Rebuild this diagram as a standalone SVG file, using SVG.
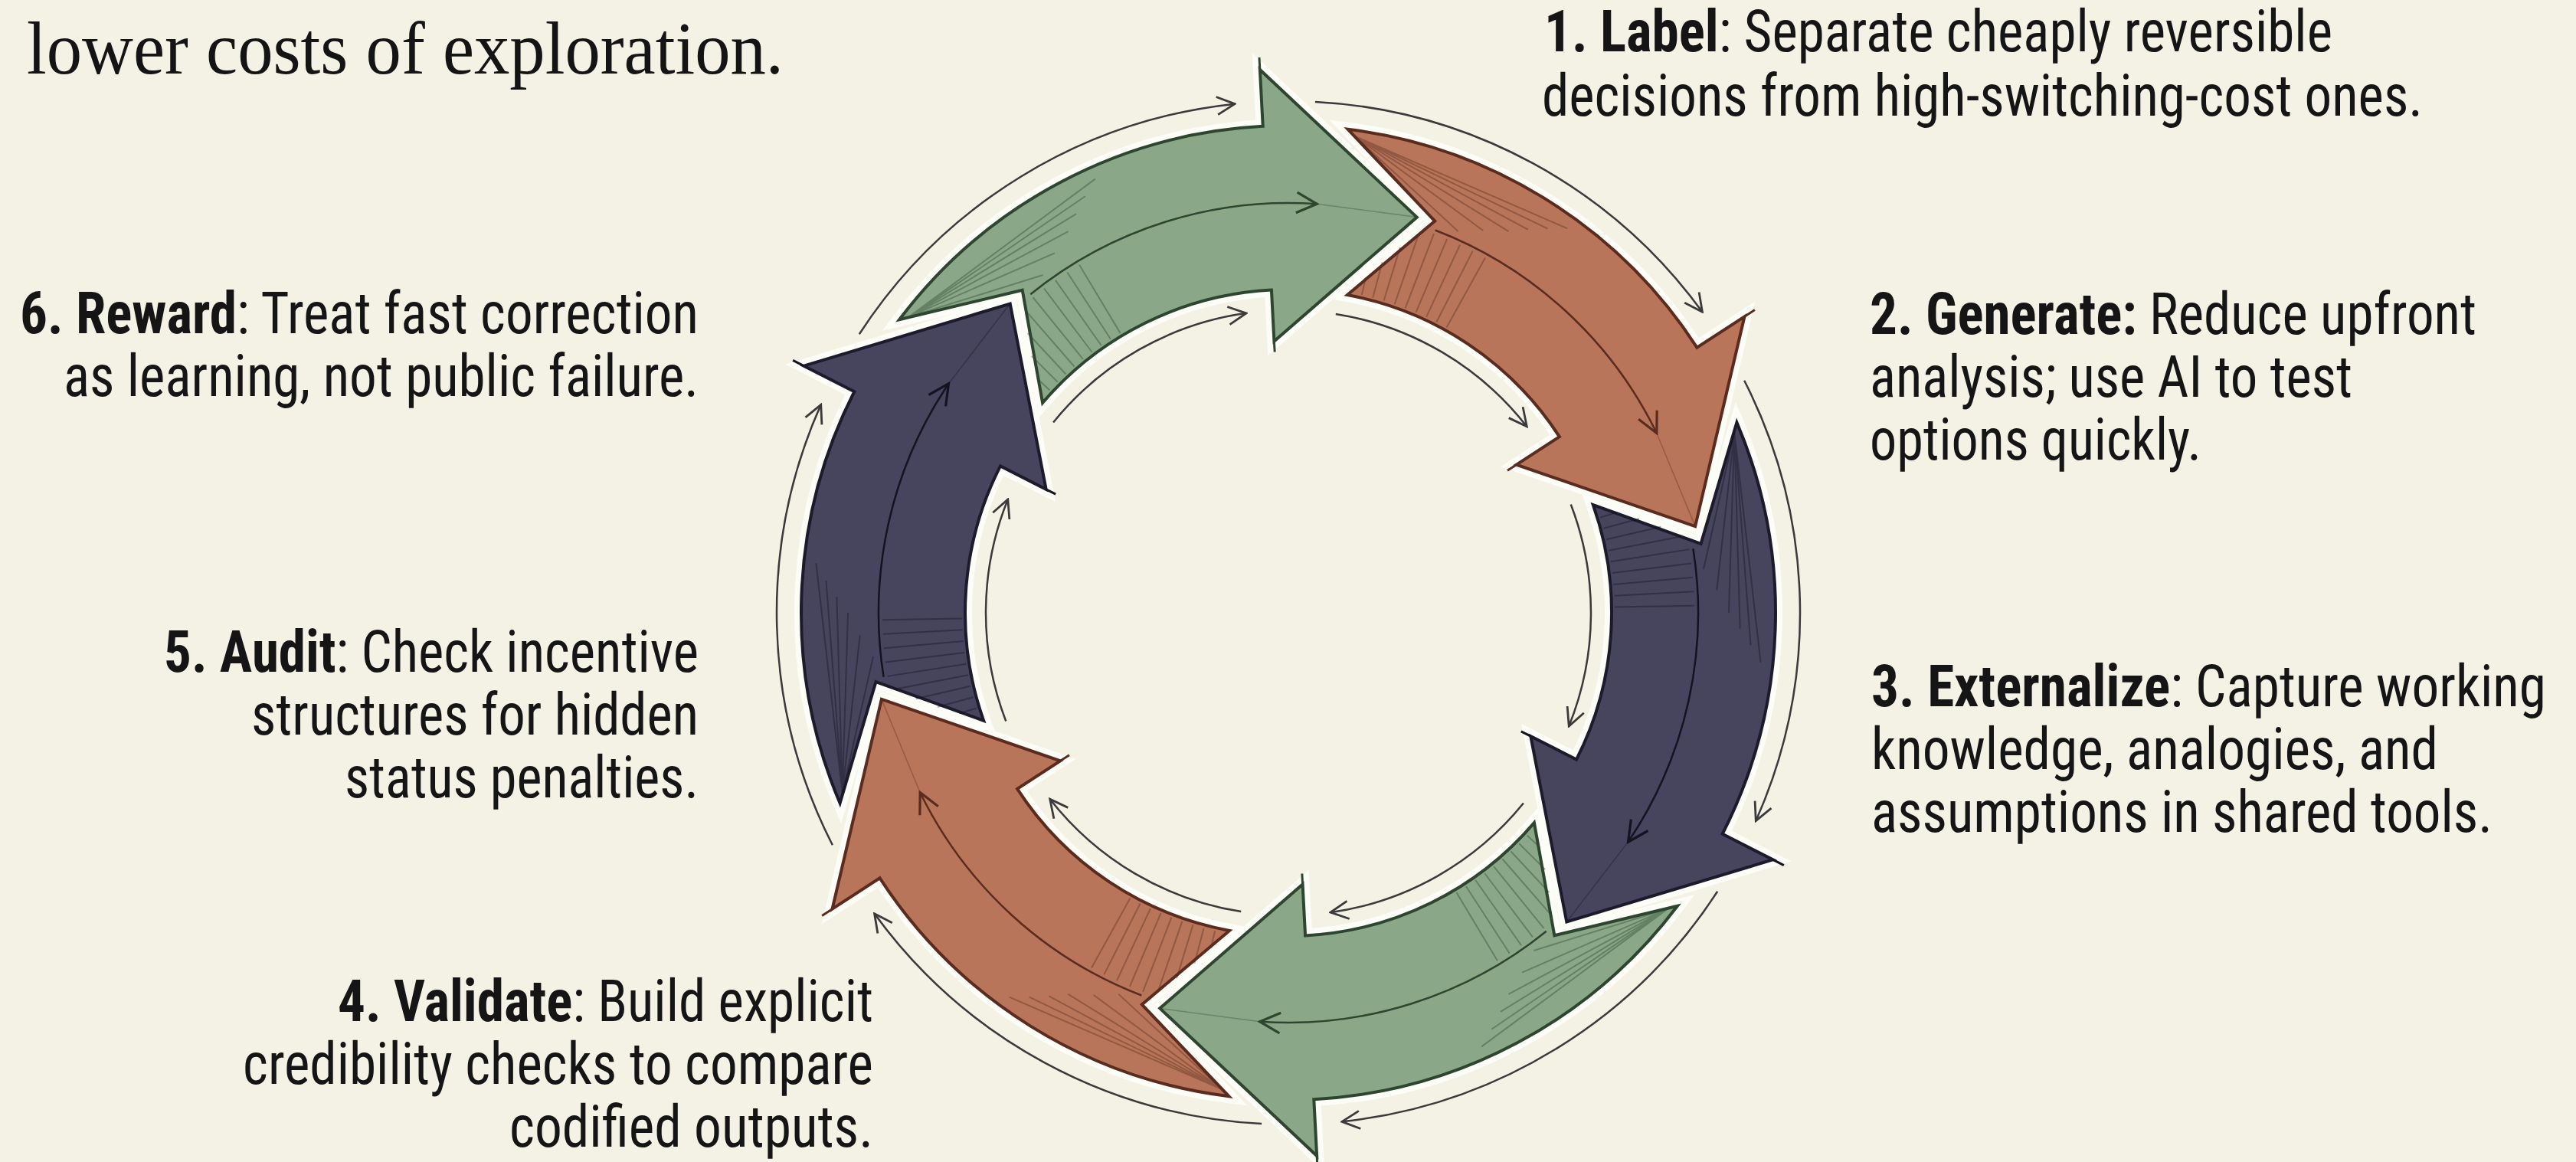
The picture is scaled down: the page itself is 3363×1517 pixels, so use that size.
<svg xmlns="http://www.w3.org/2000/svg" xmlns:xlink="http://www.w3.org/1999/xlink" width="3363" height="1517" viewBox="0 0 3363 1517">
<style>
  .lbl { font-family: "Roboto Condensed", Roboto, "Liberation Sans", "DejaVu Sans", sans-serif; font-size: 76px; font-stretch: 87.5%; fill: #151515; }
  .b { font-weight: 700; }
  .title { font-family: "Liberation Serif", "DejaVu Serif", serif; font-size: 98px; fill: #141414; }
  .halo { fill: none; stroke: #FDFDF8; stroke-width: 18; stroke-linejoin: miter; }
  .body { stroke-width: 4; stroke-linejoin: miter; }
  .gf { fill: #8AA887; stroke: #2E4630; }
  .of { fill: #B8755A; stroke: #5A2C1F; }
  .pf { fill: #47445E; stroke: #1C1A2B; }
  .thin { fill: none; stroke: #3A3A3A; stroke-width: 2.5; marker-end: url(#tipK); }
  .hatch { fill: none; stroke-width: 2; stroke-opacity: 0.4; }
  .mid { fill: none; stroke-width: 2.5; }
  .faint { fill: none; stroke-width: 1.5; stroke-opacity: 0.35; }
  .tick { fill: none; stroke-width: 3; }
</style>
<defs>
  <marker id="tipK" viewBox="0 0 12 12" refX="11" refY="6" markerWidth="28" markerHeight="28" markerUnits="userSpaceOnUse" orient="auto">
    <path d="M1 1 L11 6 L1 11" fill="none" stroke="#3A3A3A" stroke-width="1.2"/>
  </marker>
  <marker id="tipG" viewBox="0 0 12 12" refX="11" refY="6" markerWidth="32" markerHeight="32" markerUnits="userSpaceOnUse" orient="auto">
    <path d="M1 1 L11 6 L1 11" fill="none" stroke="#2E4630" stroke-width="1.2"/>
  </marker>
  <marker id="tipO" viewBox="0 0 12 12" refX="11" refY="6" markerWidth="32" markerHeight="32" markerUnits="userSpaceOnUse" orient="auto">
    <path d="M1 1 L11 6 L1 11" fill="none" stroke="#5A2C1F" stroke-width="1.2"/>
  </marker>
  <marker id="tipP" viewBox="0 0 12 12" refX="11" refY="6" markerWidth="32" markerHeight="32" markerUnits="userSpaceOnUse" orient="auto">
    <path d="M1 1 L11 6 L1 11" fill="none" stroke="#14131F" stroke-width="1.2"/>
  </marker>
  <path id="arrowShape" d="M -487.2 -408.8 A 636 636 0 0 1 0 -636 L 0 -710 L 194.6 -506.9 L 0 -355 L 0 -422 A 422 422 0 0 0 -306.1 -290.5 L -324.8 -438.9 Z"/>
  <g id="hatch">
    <path d="M -474 -412 L -296.8 -457.1 M -474 -412 L -280 -485 M -474 -412 L -261 -512.3 M -474 -412 L -249.3 -534.7 M -474 -412 L -236.4 -556.9 M -474 -412 L -222.2 -578.8"/>
    <path d="M -295.9 -306.4 L -311.9 -323 M -285 -316.6 L -317.2 -352.2 M -273.8 -326.3 L -320.8 -382.3 M -262.3 -335.7 L -322 -412.1 M -250.4 -344.6 L -311.5 -428.8 M -238.2 -353.2 L -296.4 -439.4 M -225.7 -361.3 L -280.9 -449.5 M -213 -368.9 L -265 -459 M -200 -376.1 L -248.8 -468"/>
  </g>
  <path id="midLine" d="M -314.5 -432.8 A 535 535 0 0 1 65.2 -531"/>
  <path id="tipLine" d="M 65.2 -531 L 194.6 -506.9"/>
  <path id="ticks" d="M 0 -710 L 0 -726 M 0 -355 L 0 -341"/>
  <path id="outerArc" d="M -540.4 -392.6 A 668 668 0 0 1 -35 -667.1"/>
  <path id="innerArc" d="M -293.5 -264.3 A 395 395 0 0 1 -34.4 -393.5"/>
</defs>

<rect x="0" y="0" width="3363" height="1517" fill="#F4F1E5"/>

<text class="title" x="35" y="96" textLength="988" lengthAdjust="spacingAndGlyphs">lower costs of exploration.</text>

<g id="connectors" transform="translate(1682 800)">
  <use href="#outerArc" class="thin" transform="rotate(-3)"/>
  <use href="#innerArc" class="thin" transform="rotate(-3)"/>
  <use href="#outerArc" class="thin" transform="rotate(57)"/>
  <use href="#innerArc" class="thin" transform="rotate(57)"/>
  <use href="#outerArc" class="thin" transform="rotate(117)"/>
  <use href="#innerArc" class="thin" transform="rotate(117)"/>
  <use href="#outerArc" class="thin" transform="rotate(177)"/>
  <use href="#innerArc" class="thin" transform="rotate(177)"/>
  <use href="#outerArc" class="thin" transform="rotate(237)"/>
  <use href="#innerArc" class="thin" transform="rotate(237)"/>
  <use href="#outerArc" class="thin" transform="rotate(297)"/>
  <use href="#innerArc" class="thin" transform="rotate(297)"/>
</g>

<g id="step1-label">
  <g transform="translate(1682 800) rotate(-3)">
    <use href="#arrowShape" class="halo"/>
    <use href="#arrowShape" class="gf body"/>
    <use href="#hatch" class="hatch" stroke="#2E4630"/>
    <use href="#midLine" class="mid" stroke="#2E4630" marker-end="url(#tipG)"/>
    <use href="#tipLine" class="faint" stroke="#2E4630"/>
    <use href="#ticks" class="tick" stroke="#2E4630"/>
  </g>
  <text class="lbl" x="2016" y="67" textLength="1029" lengthAdjust="spacingAndGlyphs"><tspan class="b">1. Label</tspan>: Separate cheaply reversible</text>
  <text class="lbl" x="2013" y="151" textLength="1150" lengthAdjust="spacingAndGlyphs">decisions from high-switching-cost ones.</text>
</g>

<g id="step2-generate">
  <g transform="translate(1682 800) rotate(57)">
    <use href="#arrowShape" class="halo"/>
    <use href="#arrowShape" class="of body"/>
    <use href="#hatch" class="hatch" stroke="#5A2C1F"/>
    <use href="#midLine" class="mid" stroke="#5A2C1F" marker-end="url(#tipO)"/>
    <use href="#tipLine" class="faint" stroke="#5A2C1F"/>
    <use href="#ticks" class="tick" stroke="#5A2C1F"/>
  </g>
  <text class="lbl" x="2441" y="436" textLength="792" lengthAdjust="spacingAndGlyphs"><tspan class="b">2. Generate:</tspan> Reduce upfront</text>
  <text class="lbl" x="2441" y="518" textLength="630" lengthAdjust="spacingAndGlyphs">analysis; use AI to test</text>
  <text class="lbl" x="2441" y="600" textLength="433" lengthAdjust="spacingAndGlyphs">options quickly.</text>
</g>

<g id="step3-externalize">
  <g transform="translate(1682 800) rotate(117)">
    <use href="#arrowShape" class="halo"/>
    <use href="#arrowShape" class="pf body"/>
    <use href="#hatch" class="hatch" stroke="#14131F"/>
    <use href="#midLine" class="mid" stroke="#14131F" marker-end="url(#tipP)"/>
    <use href="#tipLine" class="faint" stroke="#14131F"/>
    <use href="#ticks" class="tick" stroke="#14131F"/>
  </g>
  <text class="lbl" x="2443" y="922" textLength="881" lengthAdjust="spacingAndGlyphs"><tspan class="b">3. Externalize</tspan>: Capture working</text>
  <text class="lbl" x="2443" y="1004" textLength="740" lengthAdjust="spacingAndGlyphs">knowledge, analogies, and</text>
  <text class="lbl" x="2443" y="1086" textLength="811" lengthAdjust="spacingAndGlyphs">assumptions in shared tools.</text>
</g>

<g id="step4-validate">
  <g transform="translate(1682 800) rotate(177)">
    <use href="#arrowShape" class="halo"/>
    <use href="#arrowShape" class="gf body"/>
    <use href="#hatch" class="hatch" stroke="#2E4630"/>
    <use href="#midLine" class="mid" stroke="#2E4630" marker-end="url(#tipG)"/>
    <use href="#tipLine" class="faint" stroke="#2E4630"/>
    <use href="#ticks" class="tick" stroke="#2E4630"/>
  </g>
  <text class="lbl" x="441" y="1333" textLength="699" lengthAdjust="spacingAndGlyphs"><tspan class="b">4. Validate</tspan>: Build explicit</text>
  <text class="lbl" x="317" y="1415" textLength="823" lengthAdjust="spacingAndGlyphs">credibility checks to compare</text>
  <text class="lbl" x="665" y="1497" textLength="475" lengthAdjust="spacingAndGlyphs">codified outputs.</text>
</g>

<g id="step5-audit">
  <g transform="translate(1682 800) rotate(237)">
    <use href="#arrowShape" class="halo"/>
    <use href="#arrowShape" class="of body"/>
    <use href="#hatch" class="hatch" stroke="#5A2C1F"/>
    <use href="#midLine" class="mid" stroke="#5A2C1F" marker-end="url(#tipO)"/>
    <use href="#tipLine" class="faint" stroke="#5A2C1F"/>
    <use href="#ticks" class="tick" stroke="#5A2C1F"/>
  </g>
  <text class="lbl" x="214" y="877" textLength="698" lengthAdjust="spacingAndGlyphs"><tspan class="b">5. Audit</tspan>: Check incentive</text>
  <text class="lbl" x="328" y="959" textLength="584" lengthAdjust="spacingAndGlyphs">structures for hidden</text>
  <text class="lbl" x="450" y="1041" textLength="462" lengthAdjust="spacingAndGlyphs">status penalties.</text>
</g>

<g id="step6-reward">
  <g transform="translate(1682 800) rotate(297)">
    <use href="#arrowShape" class="halo"/>
    <use href="#arrowShape" class="pf body"/>
    <use href="#hatch" class="hatch" stroke="#14131F"/>
    <use href="#midLine" class="mid" stroke="#14131F" marker-end="url(#tipP)"/>
    <use href="#tipLine" class="faint" stroke="#14131F"/>
    <use href="#ticks" class="tick" stroke="#14131F"/>
  </g>
  <text class="lbl" x="26" y="435" textLength="886" lengthAdjust="spacingAndGlyphs"><tspan class="b">6. Reward</tspan>: Treat fast correction</text>
  <text class="lbl" x="83" y="517" textLength="829" lengthAdjust="spacingAndGlyphs">as learning, not public failure.</text>
</g>
</svg>
